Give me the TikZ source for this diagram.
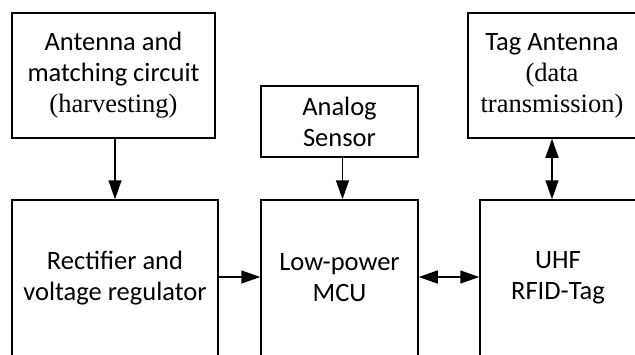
\documentclass[tikz,border=0pt]{standalone}
\usepackage{fontspec}
\setmainfont{Carlito}
\newfontfamily\cambriaish{Liberation Serif}
\usetikzlibrary{positioning,arrows.meta}
\tikzset{
  blk/.style={draw=black, line width=1.5pt, align=center, inner sep=2pt,
              font=\fontsize{26.5}{31}\selectfont},
  blk arr/.style={-{Triangle[length=19pt, width=13pt]}, line width=1.5pt},
  blk dbl/.style={{Triangle[length=19pt, width=13pt]}-{Triangle[length=19pt, width=13pt]}, line width=1.5pt},
}

\begin{document}
\begin{tikzpicture}[x=1pt, y=-1pt]
  \useasboundingbox (0,0) rectangle (635,354);
  \clip (0,0) rectangle (635,354);
  % upper row
  \node[blk, minimum width=203pt, minimum height=125pt] (ant) at (113.5,75.5)
    {Antenna and\\matching circuit\\{\cambriaish (harvesting)}};
  \node[blk, minimum width=157pt, minimum height=71pt] (sens) at (339.5,121.5)
    {Analog\\Sensor};
  \node[blk, minimum width=168pt, minimum height=125pt] (tagant) at (552,75.5)
    {Tag Antenna\\{\cambriaish (data}\\{\cambriaish transmission)}};
  % lower row (cut off at the bottom)
  \node[blk, minimum width=206pt, minimum height=156pt] (rect) at (115,278)
    {Rectifier and\\voltage regulator};
  \node[blk, minimum width=157pt, minimum height=156pt] (mcu) at (339.5,278)
    {Low-power\\MCU};
  \node[blk, minimum width=156pt, minimum height=156pt] (uhf) at (558,278)
    {UHF\\RFID-Tag};
  % connectors
  \draw[blk arr] (rect.north |- ant.south) -- (rect.north);
  \draw[blk arr] ([xshift=3pt]sens.south) -- ([xshift=3pt]sens.south |- mcu.north);
  \draw[blk dbl] (tagant.south) -- (tagant.south |- uhf.north);
  \draw[blk arr] ([yshift=1pt]rect.east) -- ([yshift=1pt]mcu.west);
  \draw[blk dbl] ([yshift=1pt]mcu.east) -- ([yshift=1pt]uhf.west);
\end{tikzpicture}
\end{document}
